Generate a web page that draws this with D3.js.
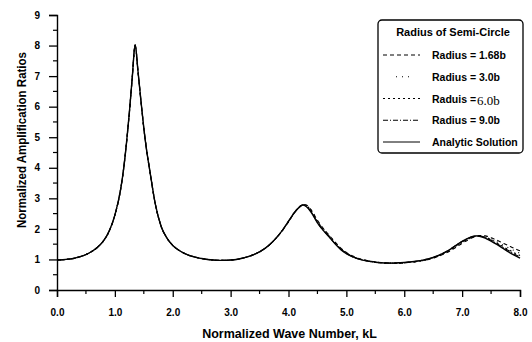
<!DOCTYPE html>
<html>
<head>
<meta charset="utf-8">
<script src="https://cdn.jsdelivr.net/npm/d3@7"></script>
<style>
  html, body { margin: 0; padding: 0; background: #fff; }
  svg { display: block; font-family: "Liberation Sans", Arial, sans-serif; }
  .tick text { font-weight: bold; font-size: 10px; fill: #000; }
</style>
</head>
<body>
<svg id="chart" width="532" height="342"></svg>
<script>
// Normalized wave number kL (shared sampling grid)
const kL = [0.0,0.1,0.2,0.3,0.4,0.5,0.6,0.7,0.8,0.9,1.0,1.1,
  1.15,1.2,1.25,1.3,1.35,1.4,1.45,1.5,1.55,1.6,
  1.7,1.8,1.9,2.0,2.1,2.2,2.3,2.4,2.5,2.6,2.7,2.8,2.9,3.0,3.1,3.2,3.3,3.4,3.5,3.6,3.7,3.8,3.9,4.0,4.1,4.2,
  4.25,
  4.3,4.4,4.5,4.6,4.7,4.8,4.9,5.0,5.1,5.2,5.3,5.4,5.5,5.6,5.7,5.8,5.9,6.0,6.1,6.2,6.3,6.4,6.5,6.6,6.7,6.8,6.9,7.0,7.1,7.2,
  7.25,
  7.3,7.4,7.5,7.6,7.7,7.8,7.9,8.0];

// Amplification ratios, radius 1.68b
const radius168 = [0.98,0.99,1.01,1.04,1.09,1.16,1.26,1.40,1.60,1.92,2.45,3.30,
  3.95,4.80,5.80,6.95,8.02,7.15,6.20,5.30,4.55,3.95,
  2.80,2.08,1.70,1.46,1.31,1.20,1.12,1.07,1.03,1.00,0.98,0.97,0.97,0.98,1.00,1.04,1.09,1.16,1.25,1.37,1.53,1.73,1.96,2.23,2.52,2.74,
  2.80,
  2.79,2.60,2.28,2.02,1.80,1.58,1.38,1.23,1.12,1.04,0.99,0.95,0.92,0.90,0.89,0.88,0.88,0.89,0.91,0.93,0.96,0.99,1.04,1.11,1.19,1.29,1.41,1.53,1.64,1.73,
  1.76,
  1.78,1.77,1.71,1.63,1.54,1.45,1.36,1.28];

// Radius 3.0b
const radius30 = [0.98,0.99,1.01,1.04,1.09,1.16,1.26,1.40,1.60,1.92,2.45,3.30,
  3.95,4.80,5.80,6.95,8.02,7.15,6.20,5.30,4.55,3.95,
  2.80,2.08,1.70,1.46,1.31,1.20,1.12,1.07,1.03,1.00,0.98,0.97,0.97,0.98,1.00,1.04,1.09,1.16,1.25,1.37,1.53,1.73,1.96,2.24,2.52,2.74,
  2.80,
  2.78,2.58,2.25,2.00,1.78,1.56,1.36,1.22,1.11,1.03,0.98,0.94,0.91,0.89,0.88,0.88,0.88,0.89,0.91,0.93,0.96,1.00,1.05,1.12,1.21,1.31,1.43,1.55,1.66,1.74,
  1.77,
  1.78,1.75,1.68,1.58,1.48,1.38,1.29,1.20];

// Radius 6.0b
const radius60 = [0.98,0.99,1.01,1.04,1.09,1.16,1.26,1.40,1.60,1.92,2.45,3.30,
  3.95,4.80,5.80,6.95,8.02,7.15,6.20,5.30,4.55,3.95,
  2.80,2.08,1.70,1.46,1.31,1.20,1.12,1.07,1.03,1.00,0.98,0.97,0.97,0.98,1.00,1.04,1.09,1.16,1.25,1.37,1.53,1.73,1.97,2.24,2.53,2.74,
  2.79,
  2.77,2.56,2.23,1.98,1.77,1.55,1.35,1.21,1.10,1.03,0.98,0.94,0.91,0.89,0.88,0.88,0.88,0.89,0.91,0.93,0.96,1.00,1.06,1.13,1.22,1.32,1.45,1.57,1.67,1.75,
  1.77,
  1.77,1.73,1.65,1.54,1.43,1.32,1.22,1.13];

// Radius 9.0b
const radius90 = [0.98,0.99,1.01,1.04,1.09,1.16,1.26,1.40,1.60,1.92,2.45,3.30,
  3.95,4.80,5.80,6.95,8.02,7.15,6.20,5.30,4.55,3.95,
  2.80,2.08,1.70,1.46,1.31,1.20,1.12,1.07,1.03,1.00,0.98,0.97,0.97,0.98,1.00,1.04,1.09,1.16,1.25,1.37,1.53,1.73,1.97,2.25,2.53,2.73,
  2.79,
  2.75,2.54,2.21,1.96,1.75,1.53,1.34,1.20,1.09,1.02,0.97,0.94,0.91,0.89,0.88,0.88,0.89,0.90,0.92,0.94,0.97,1.01,1.07,1.14,1.23,1.34,1.47,1.59,1.69,1.76,
  1.77,
  1.77,1.72,1.63,1.52,1.40,1.29,1.18,1.08];

// Analytic solution
const analytic = [0.98,0.99,1.01,1.04,1.09,1.16,1.26,1.40,1.60,1.92,2.45,3.30,
  3.95,4.80,5.80,6.95,8.02,7.15,6.20,5.30,4.55,3.95,
  2.80,2.08,1.70,1.46,1.31,1.20,1.12,1.07,1.03,1.00,0.98,0.97,0.97,0.98,1.00,1.04,1.09,1.16,1.25,1.37,1.53,1.73,1.97,2.25,2.53,2.73,
  2.78,
  2.74,2.52,2.20,1.95,1.74,1.52,1.33,1.19,1.09,1.02,0.97,0.94,0.91,0.89,0.88,0.88,0.89,0.90,0.92,0.94,0.97,1.01,1.07,1.14,1.23,1.34,1.47,1.59,1.69,1.76,
  1.77,
  1.76,1.70,1.60,1.49,1.37,1.25,1.14,1.04];

const xTicks = [0,1,2,3,4,5,6,7,8];
const yTicks = [0,1,2,3,4,5,6,7,8,9];

const legendTitle = "Radius of Semi-Circle";
const seriesNames = ["Radius = 1.68b", "Radius = 3.0b", "Raduis =", "Radius = 9.0b", "Analytic Solution"];
const seriesValues = [radius168, radius30, radius60, radius90, analytic];
const seriesDash = ["4,3", "1,5", "2,3", "5,2,1,2", null];
const seriesWidth = [1.1, 1.1, 1.2, 1.1, 1.4];

const svg = d3.select("#chart");
const margin = { left: 57, right: 12, top: 15, bottom: 52 };
const W = 532, H = 342;

const x = d3.scaleLinear().domain([0, 8]).range([margin.left, W - margin.right]);
const y = d3.scaleLinear().domain([0, 9]).range([H - margin.bottom, margin.top]);

// Minor ticks every 0.5
const xMinor = d3.range(0.5, 8, 1);
const yMinor = d3.range(0.5, 9, 1);

const gx = svg.append("g").attr("transform", `translate(0,${y(0)})`)
  .call(d3.axisBottom(x).tickValues(xTicks).tickFormat(d3.format(".1f")).tickSize(7).tickPadding(12));
gx.append("g").selectAll("line").data(xMinor).join("line")
  .attr("x1", d => x(d)).attr("x2", d => x(d)).attr("y1", 0).attr("y2", 4)
  .attr("stroke", "#000").attr("stroke-width", 1.2);

const gy = svg.append("g").attr("transform", `translate(${x(0)},0)`)
  .call(d3.axisLeft(y).tickValues(yTicks).tickFormat(d3.format("d")).tickSize(8).tickPadding(9));
gy.append("g").selectAll("line").data(yMinor).join("line")
  .attr("y1", d => y(d)).attr("y2", d => y(d)).attr("x1", 0).attr("x2", -4)
  .attr("stroke", "#000").attr("stroke-width", 1.2);

[gx, gy].forEach(g => {
  g.select(".domain").attr("stroke", "#000").attr("stroke-width", 1.4);
  g.selectAll(".tick line").attr("stroke", "#000").attr("stroke-width", 1.3);
});

// Axis titles
svg.append("text")
  .attr("x", x(4) + 1).attr("y", 338)
  .attr("text-anchor", "middle")
  .attr("font-weight", "bold").attr("font-size", 12.5)
  .text("Normalized Wave Number, kL");

svg.append("text")
  .attr("transform", "translate(26,140) rotate(-90)")
  .attr("text-anchor", "middle")
  .attr("font-weight", "bold").attr("font-size", 12.5)
  .attr("textLength", 176).attr("lengthAdjust", "spacingAndGlyphs")
  .text("Normalized Amplification Ratios");

// Curves
const line = d3.line().x((d, i) => x(kL[i])).y(d => y(d)).curve(d3.curveMonotoneX);
seriesValues.forEach((vals, i) => {
  svg.append("path")
    .datum(vals)
    .attr("d", line)
    .attr("fill", "none")
    .attr("stroke", "#000")
    .attr("stroke-width", seriesWidth[i])
    .attr("stroke-dasharray", seriesDash[i]);
});

// Legend
const lg = svg.append("g");
lg.append("rect")
  .attr("x", 378).attr("y", 20).attr("width", 145).attr("height", 133)
  .attr("rx", 4).attr("fill", "#fff").attr("stroke", "#000").attr("stroke-width", 1.3);
lg.append("text")
  .attr("x", 453).attr("y", 36).attr("text-anchor", "middle")
  .attr("font-weight", "bold").attr("font-size", 11)
  .text(legendTitle);

const rowY = d3.scaleLinear().domain([0, 4]).range([55, 142]);
seriesNames.forEach((name, i) => {
  lg.append("line")
    .attr("x1", i === 1 ? 396 : 383).attr("x2", i === 1 ? 414 : 420)
    .attr("y1", rowY(i)).attr("y2", rowY(i))
    .attr("stroke", "#000").attr("stroke-width", 1)
    .attr("stroke-dasharray", seriesDash[i]);
  const t = lg.append("text")
    .attr("x", 432).attr("y", rowY(i) + 4)
    .attr("font-weight", "bold").attr("font-size", 10.5)
    .text(name);
  if (i === 2) {
    t.append("tspan")
      .attr("font-family", "'Liberation Serif', 'Times New Roman', serif")
      .attr("font-weight", "normal").attr("font-size", 13)
      .attr("dx", 1).attr("dy", 2)
      .text("6.0b");
  }
});
</script>
</body>
</html>
